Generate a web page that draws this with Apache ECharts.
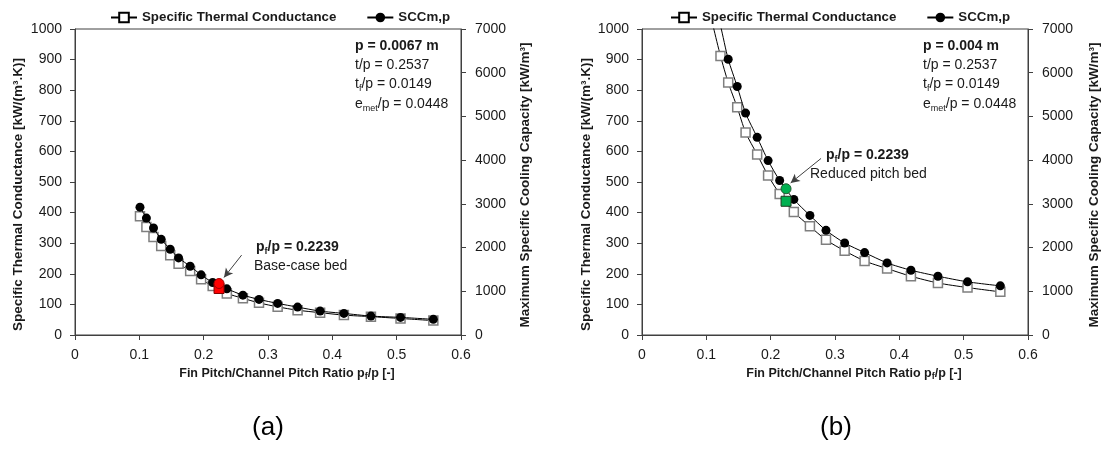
<!DOCTYPE html>
<html>
<head>
<meta charset="utf-8">
<script src="https://cdn.jsdelivr.net/npm/echarts@6/dist/echarts.min.js"></script>
<style>
html,body{margin:0;padding:0;background:#fff;}
#main{width:1104px;height:450px;}
</style>
</head>
<body>
<div id="main"></div>
<script>
// ---- data ----
const pfRatio = [0.101, 0.111, 0.122, 0.134, 0.148, 0.161, 0.179, 0.196, 0.214, 0.236, 0.261, 0.286, 0.315, 0.346, 0.381, 0.418, 0.460, 0.506, 0.557];
// (a) p = 0.0067 m
const stcA = [388, 353, 320, 291, 261, 233, 209, 182, 160, 136, 120, 105, 92, 81, 73, 65, 60, 54, 47];
const sccA = [2925, 2675, 2447, 2189, 1961, 1763, 1573, 1376, 1201, 1056, 912, 814, 723, 638, 547, 494, 433, 403, 358];
// (b) p = 0.004 m
const stcB = [1106, 1006, 912, 825, 744, 662, 590, 521, 461, 402, 355, 311, 275, 242, 217, 192, 170, 155, 141];
const sccB = [8430, 7710, 7080, 6309, 5685, 5077, 4522, 3990, 3534, 3101, 2736, 2394, 2105, 1885, 1649, 1482, 1345, 1216, 1124];
// highlighted beds
const highlightPf = [0.2239];
const highlightStcA = [152];
const highlightSccA = [1178];
const highlightStcB = [437];
const highlightSccB = [3345];
// axes
const xTickLabels = ['0', '0.1', '0.2', '0.3', '0.4', '0.5', '0.6'];
const leftAxisMax = 1000, rightAxisMax = 7000;
const legendNames = ['Specific Thermal Conductance', 'SCCm,p'];

const pairs = (xs, ys) => xs.map((x, i) => [x, ys[i]]);

const NARROW = "'Liberation Sans Narrow', 'Liberation Sans', sans-serif";
const SANS = "'Liberation Sans', Arial, sans-serif";
const TXT = '#1a1a1a';
const AX = '#404040';

function grid(left) {
  return {left: left, top: 29, width: 386, height: 306, show: true, borderColor: AX, borderWidth: 1, backgroundColor: 'transparent'};
}
function xAxis(gi) {
  return {
    type: 'value', gridIndex: gi, min: 0, max: 0.6, interval: 0.1,
    axisLine: {show: true, lineStyle: {color: AX, width: 1}},
    axisTick: {show: true, inside: false, length: 5, lineStyle: {color: AX}},
    splitLine: {show: false},
    axisLabel: {fontSize: 14, fontFamily: SANS, color: TXT, margin: 13,
      formatter: (v) => xTickLabels[Math.round(v * 10)]},
    name: '{b|Fin Pitch/Channel Pitch Ratio p}{s|f}{b|/p [-]}',
    nameLocation: 'middle', nameGap: 30,
    nameTextStyle: {padding: [0, 0, 0, 38], rich: {
      b: {fontFamily: NARROW, fontWeight: 'bold', fontSize: 12.5, color: TXT, lineHeight: 16},
      s: {fontFamily: NARROW, fontWeight: 'bold', fontSize: 9, color: TXT, lineHeight: 8, verticalAlign: 'bottom'}
    }}
  };
}
function yAxis(gi, pos, max, interval, name, gap, pad) {
  return {
    type: 'value', gridIndex: gi, position: pos, min: 0, max: max, interval: interval,
    axisLine: {show: true, lineStyle: {color: AX, width: 1}},
    axisTick: {show: true, inside: false, length: 5, lineStyle: {color: AX}},
    splitLine: {show: false},
    axisLabel: {fontSize: 14, fontFamily: SANS, color: TXT, margin: pos === 'left' ? 13 : 14,
      formatter: (v) => String(v)},
    name: name, nameLocation: 'middle', nameRotate: 90, nameGap: gap,
    nameTextStyle: {fontFamily: NARROW, fontWeight: 'bold', fontSize: 13.5, color: TXT, padding: pad}
  };
}
const leftName = 'Specific Thermal Conductance [kW/(m³.K)]';
const rightName = 'Maximum Specific Cooling Capacity [kW/m³]';

function stcSeries(xi, yi, ys) {
  return {
    name: legendNames[0], type: 'line', xAxisIndex: xi, yAxisIndex: yi,
    data: pairs(pfRatio, ys), smooth: 0.25, clip: true,
    symbol: 'rect', symbolSize: 9,
    lineStyle: {color: '#000', width: 1},
    itemStyle: {color: '#fff', borderColor: '#7f7f7f', borderWidth: 1.5},
    emphasis: {disabled: true}, z: 2
  };
}
function sccSeries(xi, yi, ys) {
  return {
    name: legendNames[1], type: 'line', xAxisIndex: xi, yAxisIndex: yi,
    data: pairs(pfRatio, ys), smooth: 0.25, clip: true,
    symbol: 'circle', symbolSize: 9,
    lineStyle: {color: '#000', width: 1},
    itemStyle: {color: '#000', borderColor: '#000', borderWidth: 0},
    emphasis: {disabled: true}, z: 3
  };
}
function hlSeries(name, xi, yi, ys, symbol, color, border, arrow) {
  const s = {
    name: name, type: 'scatter', xAxisIndex: xi, yAxisIndex: yi,
    data: pairs(highlightPf, ys), symbol: symbol, symbolSize: 10,
    itemStyle: {color: color, borderColor: border, borderWidth: 1, opacity: 1},
    emphasis: {disabled: true}, z: 4
  };
  if (arrow) {
    s.markLine = {
      silent: true, animation: false,
      lineStyle: {color: '#404040', width: 1, type: 'solid'},
      label: {show: false},
      data: [[{coord: arrow[0], symbol: 'none'}, {coord: arrow[1], symbol: 'arrow', symbolSize: [7, 9]}]]
    };
  }
  return s;
}

function txt(x, y, text, opts) {
  return {
    type: 'text', x: x, y: y, silent: true,
    style: Object.assign({text: text, fill: TXT, fontFamily: SANS, fontSize: 14,
      align: 'left', verticalAlign: 'middle'}, opts || {})
  };
}
const richSub = {
  r: {fontFamily: SANS, fontSize: 14, fill: TXT, color: TXT, lineHeight: 18},
  s: {fontFamily: SANS, fontSize: 9, fill: TXT, color: TXT, lineHeight: 9, verticalAlign: 'bottom'},
  b: {fontFamily: SANS, fontSize: 14, fontWeight: 'bold', fill: TXT, color: TXT, lineHeight: 18},
  bs: {fontFamily: SANS, fontSize: 9, fontWeight: 'bold', fill: TXT, color: TXT, lineHeight: 9, verticalAlign: 'bottom'}
};
function infoBlock(x, pText) {
  return [
    txt(x, 46, pText, {fontWeight: 'bold'}),
    txt(x, 65, 't/p = 0.2537'),
    txt(x, 84, '{r|t}{s|f}{r|/p = 0.0149}', {rich: richSub}),
    txt(x, 104, '{r|e}{s|met}{r|/p = 0.0448}', {rich: richSub})
  ];
}

const chart = echarts.init(document.getElementById('main'), null, {renderer: 'canvas'});
const legendCommon = {
  data: [
    {name: legendNames[0], itemStyle: {borderColor: '#000', color: '#fff'}},
    {name: legendNames[1]}
  ],
  top: 6, itemWidth: 26, itemHeight: 12, itemGap: 30, selectedMode: false,
  textStyle: {fontFamily: NARROW, fontWeight: 'bold', fontSize: 13.3, color: TXT}
};
chart.setOption({
  animation: false,
  backgroundColor: '#fff',
  grid: [grid(75), grid(642)],
  xAxis: [xAxis(0), xAxis(1)],
  yAxis: [
    yAxis(0, 'left', leftAxisMax, 100, leftName, 50, [0, 25, 0, 0]),
    yAxis(0, 'right', rightAxisMax, 1000, rightName, 57, [0, 6, 0, 0]),
    yAxis(1, 'left', leftAxisMax, 100, leftName, 49, [0, 25, 0, 0]),
    yAxis(1, 'right', rightAxisMax, 1000, rightName, 59, [0, 6, 0, 0])
  ],
  legend: [
    Object.assign({left: 105}, legendCommon),
    Object.assign({left: 665}, legendCommon)
  ],
  series: [
    stcSeries(0, 0, stcA),
    sccSeries(0, 1, sccA),
    hlSeries('baseSq', 0, 0, highlightStcA, 'rect', '#ff0000', '#800000', [[0.259, 261], [0.2316, 188]]),
    hlSeries('baseCi', 0, 1, highlightSccA, 'circle', '#ff0000', '#a00000'),
    stcSeries(1, 2, stcB),
    sccSeries(1, 3, sccB),
    hlSeries('redSq', 1, 2, highlightStcB, 'rect', '#00b050', '#1e3a1e', [[0.2783, 577], [0.2311, 497]]),
    hlSeries('redCi', 1, 3, highlightSccB, 'circle', '#00b050', '#1e5a2e')
  ],
  graphic: [].concat(
    infoBlock(355, 'p = 0.0067 m'),
    infoBlock(923, 'p = 0.004 m'),
    [
      txt(256, 247, '{b|p}{bs|f}{b|/p = 0.2239}', {rich: richSub}),
      txt(254, 266, 'Base-case bed'),
      txt(826, 155, '{b|p}{bs|f}{b|/p = 0.2239}', {rich: richSub}),
      txt(810, 174, 'Reduced pitch bed'),
      txt(268, 428, '(a)', {fontSize: 26, align: 'center', fill: '#000'}),
      txt(836, 428, '(b)', {fontSize: 26, align: 'center', fill: '#000'})
    ]
  )
});
</script>
</body>
</html>
